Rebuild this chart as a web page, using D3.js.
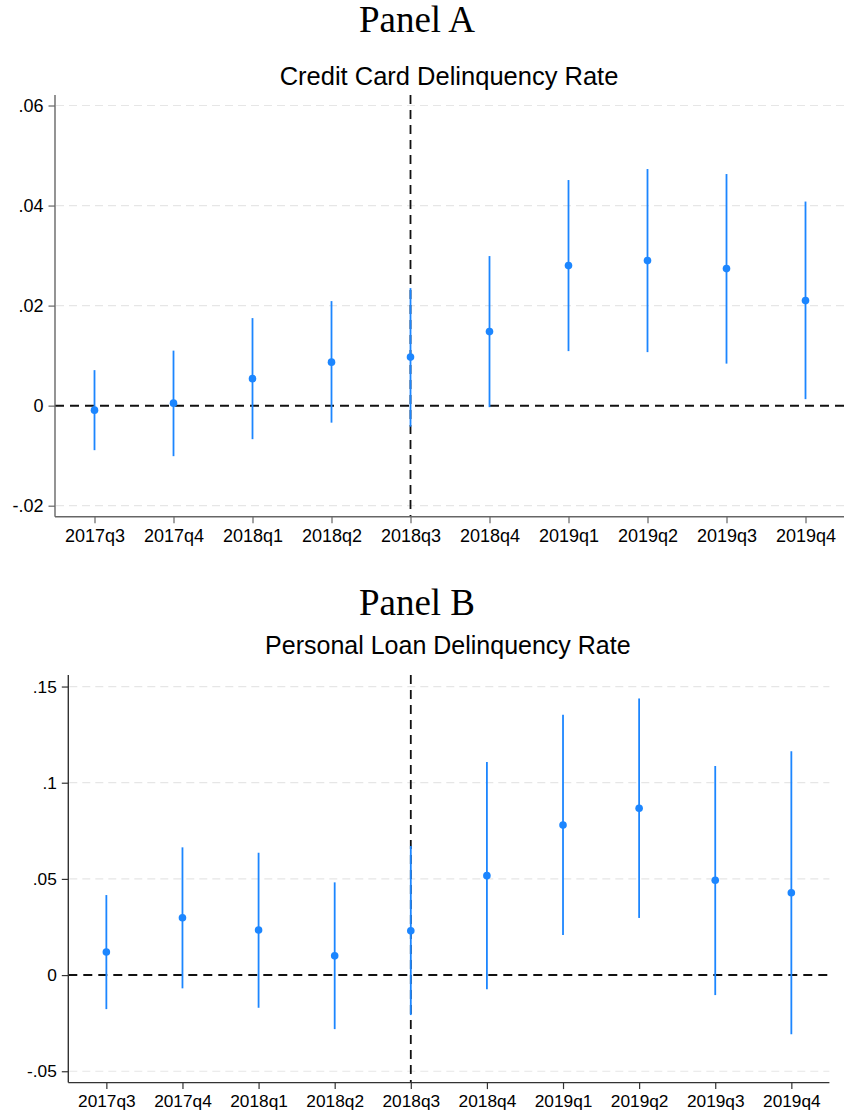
<!DOCTYPE html>
<html>
<head>
<meta charset="utf-8">
<script src="https://cdn.jsdelivr.net/npm/d3@7"></script>
<style>
  body { margin: 0; background: #fff; }
  svg { display: block; }
</style>
</head>
<body>
<div id="chart"></div>
<script>
// quarters on the x axis
const quarters = ['2017q3','2017q4','2018q1','2018q2','2018q3','2018q4','2019q1','2019q2','2019q3','2019q4'];

// Panel A: credit card delinquency rate
const ccEst   = [-0.0009, 0.0005, 0.0054, 0.0087, 0.0097, 0.0148, 0.0280, 0.0290, 0.0274, 0.0210];
const ccLower = [-0.0089, -0.0101, -0.0067, -0.0034, -0.0042, -0.0003, 0.0109, 0.0107, 0.0084, 0.0013];
const ccUpper = [0.0071, 0.0110, 0.0175, 0.0209, 0.0235, 0.0299, 0.0451, 0.0473, 0.0463, 0.0408];
const ccTicks = [-0.02, 0, 0.02, 0.04, 0.06];
const ccTickLabels = ['-.02', '0', '.02', '.04', '.06'];

// Panel B: personal loan delinquency rate
const plEst   = [0.0120, 0.0298, 0.0234, 0.0100, 0.0230, 0.0517, 0.0780, 0.0867, 0.0493, 0.0428];
const plLower = [-0.0177, -0.0069, -0.0170, -0.0281, -0.0208, -0.0074, 0.0208, 0.0297, -0.0104, -0.0307];
const plUpper = [0.0416, 0.0664, 0.0636, 0.0482, 0.0671, 0.1108, 0.1354, 0.1438, 0.1087, 0.1164];
const plTicks = [-0.05, 0, 0.05, 0.1, 0.15];
const plTickLabels = ['-.05', '0', '.05', '.1', '.15'];

const eventQuarter = '2018q3';
const blue = '#1c86ff';

const svg = d3.select('#chart').append('svg')
  .attr('width', 844)
  .attr('height', 1116);

const panels = [
  { heading: 'Panel A', headingY: 32, title: 'Credit Card Delinquency Rate', titleY: 85, titleSize: 25.5,
    est: ccEst, lo: ccLower, hi: ccUpper, ticks: ccTicks, tickLabels: ccTickLabels,
    left: 55, right: 845, top: 95, bottom: 516.7, yDomain: [-0.0222, 0.0621], fontSize: 18, axisColor: '#666' },
  { heading: 'Panel B', headingY: 615, title: 'Personal Loan Delinquency Rate', titleY: 654, titleSize: 25,
    est: plEst, lo: plLower, hi: plUpper, ticks: plTicks, tickLabels: plTickLabels,
    left: 68.3, right: 829.4, top: 675, bottom: 1082.6, yDomain: [-0.0559, 0.156], fontSize: 17.3, axisColor: '#333' }
];

panels.forEach(function(p) {
  const x = d3.scaleLinear().domain([-0.5, quarters.length - 0.5]).range([p.left, p.right]);
  const y = d3.scaleLinear().domain(p.yDomain).range([p.bottom, p.top]);
  const g = svg.append('g');

  g.append('text')
    .attr('x', 417).attr('y', p.headingY)
    .attr('text-anchor', 'middle')
    .style('font-family', '"Liberation Serif", "Times New Roman", serif')
    .style('font-size', '37px')
    .text(p.heading);

  g.append('text')
    .attr('x', (p.left + p.right) / 2 - 1).attr('y', p.titleY)
    .attr('text-anchor', 'middle')
    .style('font-family', '"Liberation Sans", Arial, sans-serif')
    .style('font-size', p.titleSize + 'px')
    .text(p.title);

  // light dashed gridlines
  g.selectAll('.grid')
    .data(p.ticks.filter(d => d !== 0))
    .enter().append('line')
    .attr('x1', p.left + 1).attr('x2', p.right)
    .attr('y1', d => y(d)).attr('y2', d => y(d))
    .attr('stroke', '#e6e6e6')
    .attr('stroke-width', 1.2)
    .attr('stroke-dasharray', '8,5');

  // zero reference
  g.append('line')
    .attr('x1', p.left).attr('x2', p.right)
    .attr('y1', y(0)).attr('y2', y(0))
    .attr('stroke', '#111')
    .attr('stroke-width', 2)
    .attr('stroke-dasharray', '9,6');

  // event quarter reference
  const ev = x(quarters.indexOf(eventQuarter));
  g.append('line')
    .attr('x1', ev).attr('x2', ev)
    .attr('y1', p.top).attr('y2', p.bottom)
    .attr('stroke', '#111')
    .attr('stroke-width', 1.8)
    .attr('stroke-dasharray', '9,6');

  // axes
  const yAxis = d3.axisLeft(y).tickValues(p.ticks)
    .tickFormat((d, i) => p.tickLabels[i]).tickSize(6.5).tickPadding(5);
  const yG = g.append('g').attr('transform', `translate(${p.left},0)`).call(yAxis);
  yG.select('.domain').attr('d', `M-0.0,${p.top}V${p.bottom}`);

  const xAxis = d3.axisBottom(x).tickValues(d3.range(quarters.length))
    .tickFormat(i => quarters[i]).tickSize(6.5).tickPadding(6);
  const xG = g.append('g').attr('transform', `translate(0,${p.bottom})`).call(xAxis);
  xG.select('.domain').attr('d', `M${p.left},0H${p.right}`);

  [yG, xG].forEach(function(ax) {
    ax.select('.domain').attr('stroke', p.axisColor).attr('stroke-width', 1.4);
    ax.selectAll('.tick line').attr('stroke', p.axisColor).attr('stroke-width', 1.2);
    ax.selectAll('.tick text')
      .attr('fill', '#000')
      .style('font-family', '"Liberation Sans", Arial, sans-serif')
      .style('font-size', p.fontSize + 'px');
  });

  // confidence intervals
  g.selectAll('.ci')
    .data(quarters)
    .enter().append('line')
    .attr('x1', (d, i) => x(i)).attr('x2', (d, i) => x(i))
    .attr('y1', (d, i) => y(p.lo[i])).attr('y2', (d, i) => y(p.hi[i]))
    .attr('stroke', blue)
    .attr('stroke-width', 1.8);

  // point estimates
  g.selectAll('.pt')
    .data(quarters)
    .enter().append('circle')
    .attr('cx', (d, i) => x(i))
    .attr('cy', (d, i) => y(p.est[i]))
    .attr('r', 3.8)
    .attr('fill', blue);
});
</script>
</body>
</html>
